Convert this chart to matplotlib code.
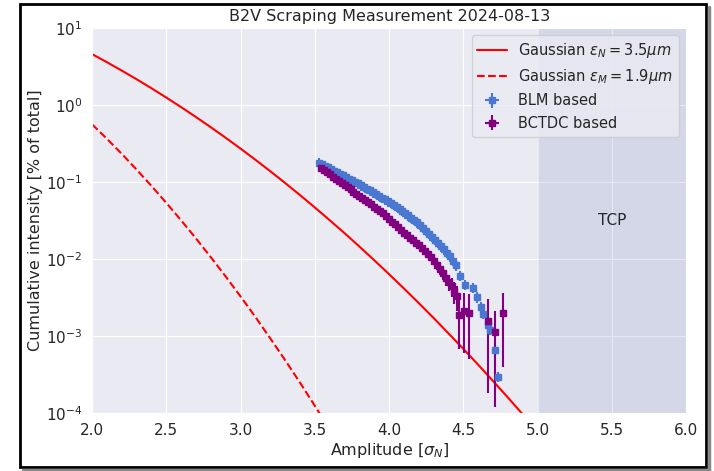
import numpy as np
import matplotlib
matplotlib.use('Agg')
import matplotlib.pyplot as plt
import seaborn as sns
from matplotlib.patches import Rectangle
from matplotlib.lines import Line2D

# Gaussian reference curves [% of total]
gauss_x = [2.0, 2.1, 2.2, 2.3, 2.4, 2.5, 2.6, 2.7, 2.8, 2.9, 3.0, 3.1, 3.2, 3.3, 3.4, 3.5,
           3.6, 3.7, 3.8, 3.9, 4.0, 4.1, 4.2, 4.3, 4.4, 4.5, 4.6, 4.7, 4.8, 4.9, 5.0]
gauss_nom = [4.55, 3.573, 2.781, 2.145, 1.640, 1.242, 0.932, 0.693, 0.511, 0.373, 0.270,
             0.1935, 0.1374, 0.0967, 0.0674, 0.0465, 0.0318, 0.0216, 0.01447, 0.00962,
             0.00633, 0.00413, 0.00267, 0.00171, 0.00108, 0.00068, 0.000423, 0.00026,
             0.000159, 0.000096, 0.000057]
gauss_meas_x = [2.0, 2.1, 2.2, 2.3, 2.4, 2.5, 2.6, 2.7, 2.8, 2.9, 3.0, 3.1, 3.2, 3.3, 3.4, 3.5, 3.6]
gauss_meas = [0.558, 0.362, 0.231, 0.144, 0.0885, 0.0533, 0.0316, 0.0184, 0.0105, 0.0059,
              0.00325, 0.00176, 0.00093, 0.000485, 0.000248, 0.000124, 0.000061]

# BLM based
blm_x = [3.53, 3.55, 3.57, 3.59, 3.61, 3.63, 3.65, 3.67, 3.69, 3.71, 3.73, 3.75, 3.77, 3.79,
         3.81, 3.83, 3.85, 3.87, 3.89, 3.91, 3.93, 3.95, 3.97, 3.99, 4.01, 4.03, 4.05, 4.07,
         4.09, 4.11, 4.13, 4.15, 4.17, 4.19, 4.21, 4.23, 4.25, 4.27, 4.29, 4.31, 4.33, 4.35,
         4.37, 4.39, 4.41, 4.43, 4.45, 4.48, 4.51, 4.565, 4.59, 4.62, 4.635, 4.665, 4.68,
         4.715, 4.735]
blm_y = [0.1778, 0.1694, 0.1618, 0.1542, 0.1469, 0.1400, 0.1337, 0.1274, 0.1213, 0.1156,
         0.1104, 0.1052, 0.1002, 0.0955, 0.0909, 0.0861, 0.0817, 0.0774, 0.0735, 0.0697,
         0.0661, 0.0627, 0.0594, 0.0564, 0.0533, 0.0502, 0.0473, 0.0446, 0.0420, 0.0394,
         0.0367, 0.0343, 0.0320, 0.0299, 0.0276, 0.0253, 0.0232, 0.0212, 0.0195, 0.0177,
         0.0161, 0.0146, 0.0133, 0.0121, 0.0109, 0.0095, 0.0083, 0.0060, 0.0046, 0.0042,
         0.0032, 0.0024, 0.00195, 0.00138, 0.00120, 0.00065, 0.000295]
blm_rel_err = 0.15

# BCTDC based
bct_x = [3.54, 3.56, 3.58, 3.60, 3.62, 3.64, 3.66, 3.68, 3.70, 3.72, 3.74, 3.76, 3.78, 3.80,
         3.82, 3.84, 3.86, 3.88, 3.90, 3.92, 3.94, 3.96, 3.98, 4.00, 4.02, 4.04, 4.06, 4.08,
         4.10, 4.12, 4.14, 4.16, 4.18, 4.20, 4.22, 4.24, 4.26, 4.28, 4.30, 4.32, 4.34, 4.36,
         4.38, 4.40, 4.42, 4.44, 4.46, 4.47, 4.505, 4.535, 4.665, 4.715, 4.77]
bct_y = [0.1514, 0.1419, 0.1330, 0.1250, 0.1172, 0.1099, 0.1030, 0.0966, 0.0908, 0.0851,
         0.0798, 0.0748, 0.0701, 0.0659, 0.0618, 0.0579, 0.0543, 0.0509, 0.0479, 0.0449,
         0.0421, 0.0391, 0.0360, 0.0331, 0.0305, 0.0281, 0.0258, 0.0238, 0.0219, 0.0203,
         0.0189, 0.0175, 0.0163, 0.0151, 0.0138, 0.0126, 0.0115, 0.0105, 0.0095, 0.0084,
         0.0074, 0.0065, 0.0057, 0.0050, 0.0044, 0.0038, 0.0033, 0.00187, 0.0021, 0.0020,
         0.00158, 0.00112, 0.0020]
bct_err = [0.0012] * 47 + [0.0012, 0.0015, 0.0015, 0.0014, 0.0010, 0.0016]

sns.set_style('darkgrid')

fig = plt.figure(figsize=(7.14, 4.71), dpi=100)
ax = fig.add_axes([0.129, 0.123, 0.832, 0.818])

ax.plot(gauss_x, gauss_nom, '-', color='red', lw=1.5, label=r'Gaussian $\varepsilon_N = 3.5\mu m$')
ax.plot(gauss_meas_x, gauss_meas, '--', color='red', lw=1.5, label=r'Gaussian $\varepsilon_M = 1.9\mu m$')

blm_err = np.array(blm_y) * blm_rel_err
ax.errorbar(blm_x, blm_y, yerr=blm_err, xerr=0.01, fmt='s', ms=4.5, color='#4a78d0',
            elinewidth=1.5, label='BLM based')
ax.errorbar(bct_x, bct_y, yerr=bct_err, xerr=0.01, fmt='s', ms=5, color='purple',
            elinewidth=1.5, label='BCTDC based')

ax.axvspan(5.0, 6.0, color='#5070b0', alpha=0.15, lw=0)
ax.text(5.5, 0.032, 'TCP', ha='center', va='center', fontsize=11)

ax.set_yscale('log')
ax.set_xlim(2.0, 6.0)
ax.set_ylim(1e-4, 10)
ax.set_title('B2V Scraping Measurement 2024-08-13', fontsize=11.5, pad=5)
ax.set_xlabel(r'Amplitude [$\sigma_N$]', fontsize=11.5, labelpad=2)
ax.set_ylabel('Cumulative intensity [% of total]', fontsize=11.5, labelpad=2)
ax.tick_params(labelsize=11)
ax.legend(loc='upper right', fontsize=10.5)

# frame around the picture, with a grey shadow on the right and bottom
W, H = 714, 471
fig.lines.append(Line2D([709 / W, 709 / W], [1 / H, 464 / H], transform=fig.transFigure,
                        color='#888888', lw=2.5))
fig.lines.append(Line2D([23 / W, 709 / W], [1 / H, 1 / H], transform=fig.transFigure,
                        color='#888888', lw=2.5))
fig.patches.append(Rectangle((20 / W, 4 / H), 686 / W, 463 / H, transform=fig.transFigure,
                             fill=False, ec='black', lw=2))

fig.savefig('out.png', dpi=100)
